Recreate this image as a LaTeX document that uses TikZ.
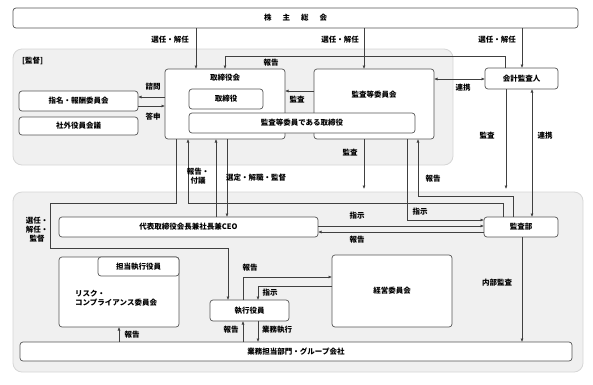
\documentclass[tikz,border=0pt]{standalone}
\usepackage{fontspec}
\setmainfont{Noto Sans CJK JP}
\usetikzlibrary{arrows.meta}
\definecolor{boxc}{HTML}{555555}
\definecolor{linec}{HTML}{404040}
\definecolor{regf}{HTML}{F0F0F0}
\definecolor{regc}{HTML}{D6D6D6}
\newcommand\lblfont{\fontsize{7.5}{9}\selectfont\bfseries}
\tikzset{
  box/.style={draw=boxc, fill=white, rounded corners=3pt, line width=0.7pt, inner sep=0pt, outer sep=0pt, font=\lblfont},
  region/.style={draw=regc, fill=regf, rounded corners=9pt, line width=0.8pt, inner sep=0pt, outer sep=0pt},
  arr/.style={draw=linec, line width=0.6pt, -{Latex[length=3.5pt,width=3pt]}},
  darr/.style={draw=linec, line width=0.6pt, {Latex[length=3.5pt,width=3pt]}-{Latex[length=3.5pt,width=3pt]}},
  lbl/.style={font=\lblfont, inner sep=0pt, align=center, text=black}
}
\begin{document}
\begin{tikzpicture}[x=1pt,y=-1pt]
\fill[white] (0,0) rectangle (593,384);
\useasboundingbox (0,0) rectangle (593,384);
% regions
\node[region, minimum width=440pt, minimum height=116pt] (sup) at (233,107) {};
\node[region, minimum width=570pt, minimum height=180pt] (exec) at (298,282) {};
\node[lbl, anchor=west] (suplbl) at (22,61) {[監督]};
% boxes
\node[box, minimum width=565pt, minimum height=20pt] (soukai) at (295.5,18) {株\hspace{11pt}主\hspace{11pt}総\hspace{11pt}会};
\node[box, minimum width=120pt, minimum height=70pt] (torikai) at (225,104) {};
\node[lbl] (torikaiT) at (225,78) {取締役会};
\node[box, minimum width=74pt, minimum height=20pt] (tori) at (226,99) {取締役};
\node[box, minimum width=120pt, minimum height=70pt] (kansaiin) at (374,104) {};
\node[lbl] (kansaiinT) at (374,95) {監査等委員会};
\node[box, minimum width=226pt, minimum height=20pt] (kansatori) at (302,123) {監査等委員である取締役};
\node[box, minimum width=119pt, minimum height=20pt] (shimei) at (78.5,101) {指名・報酬委員会};
\node[box, minimum width=119pt, minimum height=18pt] (shagai) at (78.5,126) {社外役員会議};
\node[box, minimum width=73pt, minimum height=21pt] (kaikei) at (521.5,78.5) {会計監査人};
\node[box, minimum width=259pt, minimum height=20pt] (daihyo) at (188.5,227) {代表取締役会長兼社長兼CEO};
\node[box, minimum width=74pt, minimum height=20pt] (kansabu) at (521,227) {監査部};
\node[box, minimum width=120pt, minimum height=70pt] (risk) at (119,292) {};
\node[lbl, anchor=west, align=left] (riskT) at (75,298) {リスク・\\コンプライアンス委員会};
\node[box, minimum width=81pt, minimum height=19pt, anchor=north east] (tanto) at (risk.north east) {担当執行役員};
\node[box, minimum width=79pt, minimum height=21pt] (shikko) at (249.5,310.5) {執行役員};
\node[box, minimum width=120pt, minimum height=72pt] (keiei) at (392,291) {経営委員会};
\node[box, minimum width=552pt, minimum height=19pt] (gyomu) at (296,351.5) {業務担当部門・グループ会社};
% connectors: top
\draw[arr] (soukai.south -| 196,0) -- (torikai.north -| 196,0);
\node[lbl] (l1) at (170,40) {選任・解任};
\draw[arr] (soukai.south -| 364,0) -- (kansaiin.north -| 364,0);
\node[lbl] (l2) at (340,40) {選任・解任};
\draw[arr] (soukai.south -| 522,0) -- (kaikei.north -| 522,0);
\node[lbl] (l3) at (497,40) {選任・解任};
\draw[arr] (kaikei.north -| 505,0) |- (225,56) -- (torikai.north -| 225,0);
\node[lbl] (l4) at (271,63) {報告};
\draw[arr] (kansaiin.west |- 0,91) -- (torikai.east |- 0,91);
\node[lbl] (l5) at (297,100) {監査};
\draw[darr] (kansaiin.east |- 0,79) -- (kaikei.west |- 0,79);
\node[lbl] (l6) at (463,88) {連携};
\draw[arr] (torikai.west |- 0,97) -- (shimei.east |- 0,97);
\node[lbl] (l7) at (153,87) {諮問};
\draw[arr] (shimei.east |- 0,106) -- (torikai.west |- 0,106);
\node[lbl] (l8) at (153,117) {答申};
% audits
\draw[arr] (kansaiin.south -| 364,0) -- ([yshift=3pt]exec.north -| 364,0);
\node[lbl] (l9) at (350,153) {監査};
\draw[arr] (kaikei.south -| 506,0) -- ([yshift=3pt]exec.north -| 506,0);
\node[lbl] (l10) at (487,136) {監査};
\draw[darr] (kaikei.south -| 532,0) -- (kansabu.north -| 532,0);
\node[lbl] (l11) at (545,136) {連携};
\draw[arr] (kansaiin.south -| 407,0) |- (kansabu.west |- 0,220);
\node[lbl] (l12) at (420,212) {指示};
\draw[arr] (kansabu.north -| 513,0) |- (418,196) -- (kansaiin.south -| 418,0);
\node[lbl] (l13) at (433,179) {報告};
\draw[arr] (kansabu.north -| 503,0) |- (188,203) -- (torikai.south -| 188,0);
% board - executive
\draw[arr] (torikai.south -| 176,0) |- (50,203) |- (228,248) -- (shikko.north -| 228,0);
\node[lbl] (l14) at (37,230) {選任・\\解任・\\監督};
\draw[arr] (daihyo.north -| 216,0) -- (torikai.south -| 216,0);
\node[lbl] (l15) at (198,176) {報告・\\付議};
\draw[arr] (torikai.south -| 227,0) -- (daihyo.north -| 227,0);
\node[lbl] (l16) at (256,178) {選定・解職・監督};
\draw[arr] (daihyo.east |- 0,226) -- (kansabu.west |- 0,226);
\node[lbl] (l17) at (357,216) {指示};
\draw[arr] (kansabu.west |- 0,232) -- (daihyo.east |- 0,232);
\node[lbl] (l18) at (357,240) {報告};
\draw[arr] (kansabu.south -| 522,0) -- (gyomu.north -| 522,0);
\node[lbl] (l19) at (497,283) {内部監査};
% execution
\draw[arr] (shikko.north -| 243,0) |- (keiei.west |- 0,277);
\node[lbl] (l20) at (250,268) {報告};
\draw[arr] (keiei.west |- 0,286) -| (shikko.north -| 258,0);
\node[lbl] (l21) at (270,293) {指示};
\draw[arr] (gyomu.north -| 243,0) -- (shikko.south -| 243,0);
\node[lbl] (l22) at (231,330) {報告};
\draw[arr] (shikko.south -| 258,0) -- (gyomu.north -| 258,0);
\node[lbl] (l23) at (277,330) {業務執行};
\draw[arr] (gyomu.north -| 119,0) -- (risk.south -| 119,0);
\node[lbl] (l24) at (132,335) {報告};
\end{tikzpicture}
\end{document}
